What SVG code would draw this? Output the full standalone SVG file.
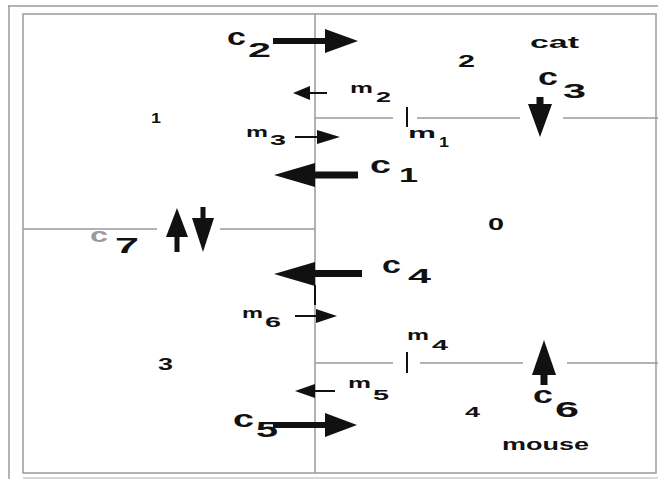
<svg xmlns="http://www.w3.org/2000/svg" width="658" height="479" viewBox="0 0 658 479">
<style>
.ln{stroke:#9a9a9a;stroke-width:1.5;fill:none}
.tk{stroke:#111;stroke-width:2;fill:none}
.ar{fill:#111}
text{font-family:"Liberation Sans",Arial,sans-serif;font-weight:bold;fill:#111}
.gray{fill:#9a9a9a}
</style>
<rect width="658" height="479" fill="#fff"/>
<g id="frame">
<line class="ln" x1="8" y1="6" x2="658" y2="6"/>
<line class="ln" x1="9" y1="6" x2="9" y2="479"/>
<rect class="ln" x="23" y="14" width="633" height="459"/>
<line class="ln" x1="23" y1="478" x2="658" y2="478" stroke-opacity="0.5"/>
</g>
<g id="partition">
<line class="ln" x1="315" y1="14" x2="315" y2="473"/>
<line class="tk" x1="315" y1="285" x2="315" y2="305" stroke-width="1.5"/>
<line class="ln" x1="315" y1="118" x2="393" y2="118"/>
<line class="ln" x1="417" y1="118" x2="520" y2="118"/>
<line class="ln" x1="563" y1="118" x2="658" y2="118"/>
<line class="ln" x1="315" y1="363" x2="393" y2="363"/>
<line class="ln" x1="420" y1="363" x2="523" y2="363"/>
<line class="ln" x1="567" y1="363" x2="658" y2="363"/>
<line class="ln" x1="23" y1="229" x2="157" y2="229"/>
<line class="ln" x1="220" y1="229" x2="315" y2="229"/>
<line class="tk" x1="407" y1="107" x2="407" y2="127"/>
<line class="tk" x1="407" y1="352" x2="407" y2="373"/>
</g>
<g id="arrows">
<g id="c2-arrow"><rect class="ar" x="273" y="38" width="54" height="6"/><polygon class="ar" points="325,29 358,41 325,53"/></g>
<g id="c1-arrow"><rect class="ar" x="313" y="171.5" width="45" height="7"/><polygon class="ar" points="274,175 315,163 315,187"/></g>
<g id="c4-arrow"><rect class="ar" x="313" y="270" width="49" height="7"/><polygon class="ar" points="274,274 315,262 315,286"/></g>
<g id="c5-arrow"><rect class="ar" x="273" y="422" width="54" height="6"/><polygon class="ar" points="325,413 357,425 325,437"/></g>
<g id="c3-arrow"><rect class="ar" x="536.5" y="97" width="7" height="9"/><polygon class="ar" points="528,104 552,104 540,137"/></g>
<g id="c6-arrow"><rect class="ar" x="540.5" y="373" width="7" height="12"/><polygon class="ar" points="532,375 556,375 544,340"/></g>
<g id="c7-up"><rect class="ar" x="174.5" y="235" width="5" height="17"/><polygon class="ar" points="166,237 188,237 177,208"/></g>
<g id="c7-down"><rect class="ar" x="200.5" y="207" width="5" height="13"/><polygon class="ar" points="192,218 214,218 203,252"/></g>
<g id="m2-arrow"><rect class="ar" x="308" y="92" width="19" height="2"/><polygon class="ar" points="293,93 310,86 310,100"/></g>
<g id="m3-arrow"><rect class="ar" x="295" y="136" width="24" height="2"/><polygon class="ar" points="317,130 340,137 317,144"/></g>
<g id="m6-arrow"><rect class="ar" x="295" y="315" width="23" height="2"/><polygon class="ar" points="316,309 337,316 316,323"/></g>
<g id="m5-arrow"><rect class="ar" x="313" y="390" width="22" height="2"/><polygon class="ar" points="295,391 315,384 315,398"/></g>
</g>
<g id="labels">
<g id="c2"><text x="227" y="45" font-size="24" textLength="19" lengthAdjust="spacingAndGlyphs">c</text><text x="248" y="57" font-size="20" textLength="23" lengthAdjust="spacingAndGlyphs">2</text></g>
<g id="c1"><text x="370" y="173" font-size="24" textLength="21" lengthAdjust="spacingAndGlyphs">c</text><text x="399" y="182" font-size="20" textLength="19" lengthAdjust="spacingAndGlyphs">1</text></g>
<g id="c3"><text x="538" y="85" font-size="24" textLength="20" lengthAdjust="spacingAndGlyphs">c</text><text x="563" y="98" font-size="21" textLength="23" lengthAdjust="spacingAndGlyphs">3</text></g>
<g id="c4"><text x="382" y="273" font-size="24" textLength="19" lengthAdjust="spacingAndGlyphs">c</text><text x="408" y="283" font-size="21" textLength="23" lengthAdjust="spacingAndGlyphs">4</text></g>
<g id="c5"><text x="233" y="427" font-size="24" textLength="21" lengthAdjust="spacingAndGlyphs">c</text><text x="256" y="437" font-size="22" textLength="22" lengthAdjust="spacingAndGlyphs">5</text></g>
<g id="c6"><text x="533" y="403" font-size="24" textLength="20" lengthAdjust="spacingAndGlyphs">c</text><text x="555" y="417" font-size="22" textLength="24" lengthAdjust="spacingAndGlyphs">6</text></g>
<g id="c7"><text class="gray" x="90" y="242" font-size="20" textLength="18" lengthAdjust="spacingAndGlyphs">c</text><text x="115" y="253" font-size="22" textLength="24" lengthAdjust="spacingAndGlyphs">7</text></g>
<g id="m1"><text x="408" y="138" font-size="15" textLength="28" lengthAdjust="spacingAndGlyphs">m</text><text x="439" y="147" font-size="14" textLength="10" lengthAdjust="spacingAndGlyphs">1</text></g>
<g id="m2"><text x="350" y="93" font-size="15" textLength="23" lengthAdjust="spacingAndGlyphs">m</text><text x="376" y="102" font-size="15" textLength="15" lengthAdjust="spacingAndGlyphs">2</text></g>
<g id="m3"><text x="246" y="137" font-size="15" textLength="22" lengthAdjust="spacingAndGlyphs">m</text><text x="270" y="145" font-size="15" textLength="16" lengthAdjust="spacingAndGlyphs">3</text></g>
<g id="m4"><text x="407" y="340" font-size="15" textLength="22" lengthAdjust="spacingAndGlyphs">m</text><text x="432" y="350" font-size="14" textLength="16" lengthAdjust="spacingAndGlyphs">4</text></g>
<g id="m5"><text x="348" y="388" font-size="15" textLength="23" lengthAdjust="spacingAndGlyphs">m</text><text x="373" y="400" font-size="15" textLength="16" lengthAdjust="spacingAndGlyphs">5</text></g>
<g id="m6"><text x="242" y="318" font-size="15" textLength="21" lengthAdjust="spacingAndGlyphs">m</text><text x="265" y="327" font-size="14" textLength="16" lengthAdjust="spacingAndGlyphs">6</text></g>
</g>
<g id="regions">
<text x="151" y="123" font-size="14" textLength="10" lengthAdjust="spacingAndGlyphs">1</text>
<text x="458" y="67" font-size="16" textLength="17" lengthAdjust="spacingAndGlyphs">2</text>
<text x="488" y="230" font-size="16" textLength="16" lengthAdjust="spacingAndGlyphs">0</text>
<text x="158" y="370" font-size="16" textLength="15" lengthAdjust="spacingAndGlyphs">3</text>
<text x="465" y="417" font-size="14" textLength="15" lengthAdjust="spacingAndGlyphs">4</text>
<text x="530" y="48" font-size="17" textLength="49" lengthAdjust="spacingAndGlyphs">cat</text>
<text x="502" y="450" font-size="17" textLength="87" lengthAdjust="spacingAndGlyphs">mouse</text>
</g>
</svg>
